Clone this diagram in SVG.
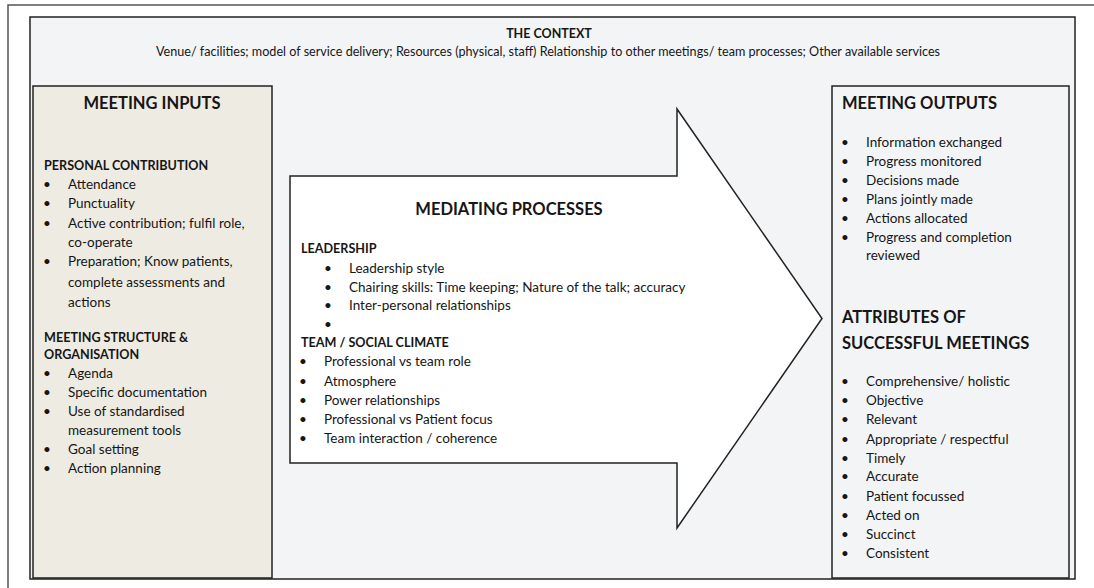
<svg xmlns="http://www.w3.org/2000/svg" width="1094" height="588" viewBox="0 0 1094 588">
<style>
  text { font-family: Lato, "Liberation Sans", sans-serif; fill: #161616; }
  .body { font-size: 13.5px; }
  .sub { font-size: 12.6px; font-weight: bold; }
  .head { font-size: 16.5px; font-weight: bold; }
  .ctx { font-size: 12.5px; }
  .ctxh { font-size: 12.5px; font-weight: bold; }
  .bul { font-size: 13.5px; text-anchor: middle; }
  .box { stroke: #222; stroke-width: 1.5; }
</style>
<rect width="1094" height="588" fill="#ffffff"/>
<path d="M8 588 V5 H1094" fill="none" stroke="#555" stroke-width="1.5"/>

<g id="context">
  <rect class="box" x="30" y="17" width="1045" height="562" fill="#f3f4f6"/>
  <text class="ctxh" x="549" y="38" text-anchor="middle">THE CONTEXT</text>
  <text class="ctx" x="548" y="56" text-anchor="middle" textLength="784" lengthAdjust="spacingAndGlyphs">Venue/ facilities; model of service delivery; Resources (physical, staff) Relationship to other meetings/ team processes; Other available services</text>
</g>

<g id="meeting-inputs">
  <rect class="box" x="33" y="86" width="239" height="492" fill="#eeebe2"/>
  <text class="head" x="152" y="109" text-anchor="middle">MEETING INPUTS</text>
  <text class="sub" x="44" y="170">PERSONAL CONTRIBUTION</text>
  <text class="bul" x="47" y="189">•</text><text class="body" x="68" y="189">Attendance</text>
  <text class="bul" x="47" y="208">•</text><text class="body" x="68" y="208">Punctuality</text>
  <text class="bul" x="47" y="228">•</text><text class="body" x="68" y="228">Active contribution; fulfil role,</text>
  <text class="body" x="68" y="247">co-operate</text>
  <text class="bul" x="47" y="266">•</text><text class="body" x="68" y="266">Preparation; Know patients,</text>
  <text class="body" x="68" y="287">complete assessments and</text>
  <text class="body" x="68" y="307">actions</text>
  <text class="sub" x="44" y="342">MEETING STRUCTURE &amp;</text>
  <text class="sub" x="44" y="359">ORGANISATION</text>
  <text class="bul" x="47" y="378">•</text><text class="body" x="68" y="378">Agenda</text>
  <text class="bul" x="47" y="397">•</text><text class="body" x="68" y="397">Specific documentation</text>
  <text class="bul" x="47" y="416">•</text><text class="body" x="68" y="416">Use of standardised</text>
  <text class="body" x="68" y="435">measurement tools</text>
  <text class="bul" x="47" y="454">•</text><text class="body" x="68" y="454">Goal setting</text>
  <text class="bul" x="47" y="473">•</text><text class="body" x="68" y="473">Action planning</text>
</g>

<g id="mediating-processes">
  <path class="box" d="M290 176 H677 V109 L822 318.5 L677 528 V463 H290 Z" fill="#ffffff" stroke-linejoin="miter"/>
  <text class="head" x="509" y="215" text-anchor="middle">MEDIATING PROCESSES</text>
  <text class="sub" x="301" y="253">LEADERSHIP</text>
  <text class="bul" x="328" y="272.5">•</text><text class="body" x="349" y="272.5">Leadership style</text>
  <text class="bul" x="328" y="291.5">•</text><text class="body" x="349" y="291.5">Chairing skills: Time keeping; Nature of the talk; accuracy</text>
  <text class="bul" x="328" y="310">•</text><text class="body" x="349" y="310">Inter-personal relationships</text>
  <text class="bul" x="328" y="329">•</text>
  <text class="sub" x="301" y="347">TEAM / SOCIAL CLIMATE</text>
  <text class="bul" x="303" y="366">•</text><text class="body" x="324" y="366">Professional vs team role</text>
  <text class="bul" x="303" y="385.5">•</text><text class="body" x="324" y="385.5">Atmosphere</text>
  <text class="bul" x="303" y="405">•</text><text class="body" x="324" y="405">Power relationships</text>
  <text class="bul" x="303" y="424">•</text><text class="body" x="324" y="424">Professional vs Patient focus</text>
  <text class="bul" x="303" y="443">•</text><text class="body" x="324" y="443">Team interaction / coherence</text>
</g>

<g id="meeting-outputs">
  <rect class="box" x="832" y="86" width="237" height="492" fill="#f3f4f6"/>
  <text class="head" x="842" y="109">MEETING OUTPUTS</text>
  <text class="bul" x="845" y="147">•</text><text class="body" x="866" y="147">Information exchanged</text>
  <text class="bul" x="845" y="166">•</text><text class="body" x="866" y="166">Progress monitored</text>
  <text class="bul" x="845" y="185">•</text><text class="body" x="866" y="185">Decisions made</text>
  <text class="bul" x="845" y="204">•</text><text class="body" x="866" y="204">Plans jointly made</text>
  <text class="bul" x="845" y="222.5">•</text><text class="body" x="866" y="222.5">Actions allocated</text>
  <text class="bul" x="845" y="242">•</text><text class="body" x="866" y="242">Progress and completion</text>
  <text class="body" x="866" y="260">reviewed</text>
  <text class="head" x="842" y="322.5">ATTRIBUTES OF</text>
  <text class="head" x="842" y="349">SUCCESSFUL MEETINGS</text>
  <text class="bul" x="845" y="386">•</text><text class="body" x="866" y="386">Comprehensive/ holistic</text>
  <text class="bul" x="845" y="405">•</text><text class="body" x="866" y="405">Objective</text>
  <text class="bul" x="845" y="424">•</text><text class="body" x="866" y="424">Relevant</text>
  <text class="bul" x="845" y="443.5">•</text><text class="body" x="866" y="443.5">Appropriate / respectful</text>
  <text class="bul" x="845" y="462.5">•</text><text class="body" x="866" y="462.5">Timely</text>
  <text class="bul" x="845" y="481">•</text><text class="body" x="866" y="481">Accurate</text>
  <text class="bul" x="845" y="500.5">•</text><text class="body" x="866" y="500.5">Patient focussed</text>
  <text class="bul" x="845" y="520">•</text><text class="body" x="866" y="520">Acted on</text>
  <text class="bul" x="845" y="538.5">•</text><text class="body" x="866" y="538.5">Succinct</text>
  <text class="bul" x="845" y="557.5">•</text><text class="body" x="866" y="557.5">Consistent</text>
</g>

<g id="connectors"></g>
</svg>
